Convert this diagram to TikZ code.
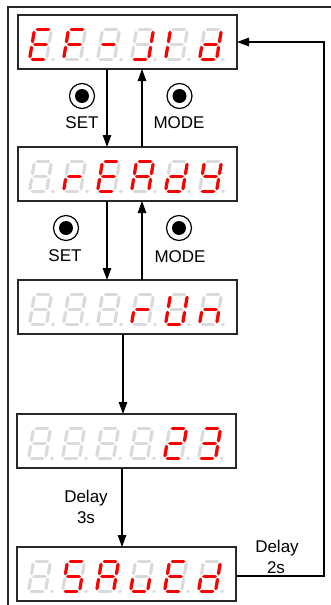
\documentclass[tikz,border=0pt]{standalone}
\usepackage{fontspec}
\setmainfont{Liberation Sans}
\usetikzlibrary{arrows.meta,calc}
\definecolor{segred}{RGB}{255,0,0}
\definecolor{seggray}{RGB}{218,218,218}
\definecolor{linegray}{RGB}{40,40,40}
\newcommand\mysega[1]{\draw[#1] (2.8,30) -- (14.2,30);}
\newcommand\mysegb[1]{\draw[#1] (17,27.2) -- (17,17.8);}
\newcommand\mysegc[1]{\draw[#1] (17,12.2) -- (17,2.8);}
\newcommand\mysegd[1]{\draw[#1] (2.8,0) -- (14.2,0);}
\newcommand\mysege[1]{\draw[#1] (0,2.8) -- (0,12.2);}
\newcommand\mysegf[1]{\draw[#1] (0,17.8) -- (0,27.2);}
\newcommand\mysegg[1]{\draw[#1] (2.8,15) -- (14.2,15);}
\newcommand\mysegz[1]{}
\newcommand\ssdigit[3]{%
  \begin{scope}[shift={($(#1.north west)+(11.5+34*#2,44.5)$)}, xslant=0.1667, yscale=-1]
    \mysega{segoff}\mysegb{segoff}\mysegc{segoff}\mysegd{segoff}%
    \mysege{segoff}\mysegf{segoff}\mysegg{segoff}%
    \fill[seggray] (23.5,0) circle (1.9);
    \foreach \s in {#3}{\csname myseg\s\endcsname{segon}}
  \end{scope}}
\newcommand\showdisp[7]{%
  \ssdigit{#1}{0}{#2}\ssdigit{#1}{1}{#3}\ssdigit{#1}{2}{#4}%
  \ssdigit{#1}{3}{#5}\ssdigit{#1}{4}{#6}\ssdigit{#1}{5}{#7}}
\begin{document}
\begin{tikzpicture}[x=1pt,y=-1pt,
  segon/.style={draw=segred, line width=3.2pt, line cap=round},
  segoff/.style={draw=seggray, line width=3.2pt, line cap=round},
  dispbox/.style={draw=linegray, line width=1.3pt, minimum width=219pt, minimum height=54pt, inner sep=0pt, outer sep=0pt, anchor=north west},
  btn/.style={circle, draw=black, line width=1.2pt, minimum size=25pt, inner sep=0pt},
  lbl/.style={anchor=base, inner sep=0pt, font=\fontsize{17}{21}\selectfont},
  arr/.style={draw=black, line width=1.1pt, -{Triangle[length=12pt,width=8.5pt]}},
  frame/.style={draw=linegray, line width=1.3pt}]
\useasboundingbox (0,0) rectangle (331,605);
\draw[frame] (331,7) -- (8,7) -- (8,605);
% boxes
\node[dispbox] (b1) at (18,15) {};
\node[dispbox] (b2) at (18,147) {};
\node[dispbox] (b3) at (18,280) {};
\node[dispbox] (b4) at (17,414) {};
\node[dispbox] (b5) at (17,547) {};
% displays
\showdisp{b1}{a,d,e,f,g}{a,e,f,g}{g}{b,c,d}{e,f}{b,c,d,e,g}
\showdisp{b2}{z}{e,g}{a,d,e,f,g}{a,b,c,e,f,g}{b,c,d,e,g}{b,c,d,f,g}
\showdisp{b3}{z}{z}{z}{e,g}{b,c,d,e,f}{c,e,g}
\showdisp{b4}{z}{z}{z}{z}{a,b,g,e,d}{a,b,g,c,d}
\showdisp{b5}{z}{a,f,g,c,d}{a,b,c,e,f,g}{c,d,e}{a,d,e,f,g}{b,c,d,e,g}
% buttons
\node[btn] (s1) at (82,96) {};
\fill (s1.center) circle (7);
\node[btn] (m1) at (179.5,96) {};
\fill (m1.center) circle (7);
\node[btn] (s2) at (66,228) {};
\fill (s2.center) circle (7);
\node[btn] (m2) at (179,228) {};
\fill (m2.center) circle (7);
\node[lbl] (ts1) at (82,128.3) {SET};
\node[lbl] (tm1) at (179,128.3) {MODE};
\node[lbl] (ts2) at (65,261) {SET};
\node[lbl] (tm2) at (180,262.5) {MODE};
\node[lbl] (d3a) at (86,502) {Delay};
\node[lbl] (d3b) at (86,523) {3s};
\node[lbl] (d2a) at (277,552) {Delay};
\node[lbl] (d2b) at (276,573) {2s};
% connectors
\coordinate (cx1) at (107,0);
\coordinate (cx2) at (142,0);
\coordinate (cx3) at (123,0);
\coordinate (cx4) at (122,0);
\coordinate (rt) at (324,576);
\draw[arr] (b1.south -| cx1) -- (b2.north -| cx1);
\draw[arr] (b2.north -| cx2) -- (b1.south -| cx2);
\draw[arr] (b2.south -| cx1) -- (b3.north -| cx1);
\draw[arr] (b3.north -| cx2) -- (b2.south -| cx2);
\draw[arr] (b3.south -| cx3) -- (b4.north -| cx3);
\draw[arr] (b4.south -| cx4) -- (b5.north -| cx4);
\draw[arr] (b5.east |- rt) -- (rt) |- (b1.east);
\end{tikzpicture}
\end{document}
